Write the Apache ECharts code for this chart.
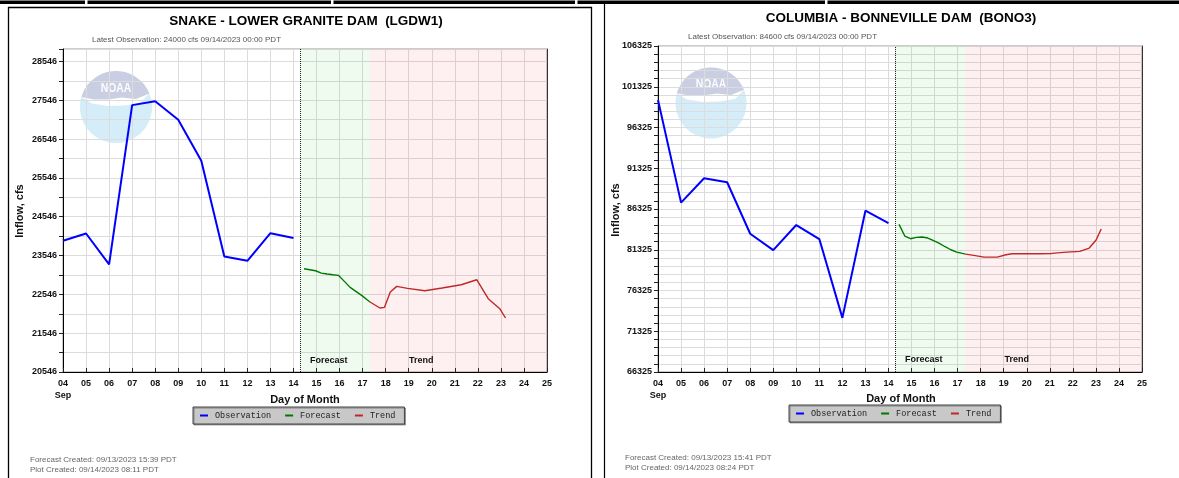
<!DOCTYPE html>
<html><head><meta charset="utf-8">
<script src="https://cdn.jsdelivr.net/npm/echarts@6/dist/echarts.min.js"></script>
<style>html,body{margin:0;padding:0;background:#fff}#c{width:1179px;height:478px}</style>
</head><body><div id="c"></div>
<script>
// ---------- data ----------
const dayMin = 4, dayMax = 25;

// SNAKE - LOWER GRANITE DAM (LGDW1)
const lgObsDays   = [4,5,6,7,8,9,10,11,12,13,14];
const lgObs       = [23925,24113,23317,27420,27520,27042,25989,23522,23411,24122,24000];
const lgFcstDays  = [14.458,14.708,14.958,15.208,15.458,15.708,15.958,16.208,16.458,16.708,16.958,17.208,17.32];
const lgFcst      = [23206,23180,23154,23094,23069,23051,23034,22880,22726,22623,22520,22400,22349];
const lgTrendDays = [17.32,17.75,17.95,18.2,18.48,18.95,19.7,20.45,21.28,21.95,22.45,22.95,23.2];
const lgTrend     = [22349,22195,22212,22606,22752,22700,22640,22709,22794,22923,22434,22177,21937];
const lgAxisMin = 20546, lgAxisMax = 28866, lgMinorStep = 500, lgMajorStep = 1000;
const lgNow = 14.28, lgTrendStart = 17.32;

// COLUMBIA - BONNEVILLE DAM (BONO3)
const bnObsDays   = [4,5,6,7,8,9,10,11,12,13,14];
const bnObs       = [99700,87104,90095,89604,83292,81284,84358,82636,72964,86120,84600];
const bnFcstDays  = [14.458,14.708,14.958,15.208,15.458,15.708,15.958,16.208,16.458,16.708,16.958,17.208,17.34];
const bnFcst      = [84440,83005,82677,82841,82882,82759,82431,82103,81694,81325,81038,80874,80792];
const bnTrendDays = [17.34,17.7,18.15,18.72,19.1,19.37,19.94,20.5,21.08,21.74,22.3,22.71,23.01,23.23];
const bnTrend     = [80792,80628,80423,80423,80710,80833,80833,80833,80874,81038,81120,81530,82514,83866];
const bnAxisMin = 66325, bnAxisMax = 106325, bnMinorStep = 1000, bnMajorStep = 5000;
const bnNow = 14.28, bnTrendStart = 17.34;

const legendNames = ['Observation','Forecast','Trend'];
const seriesColors = ['#0000ff','#007800','#c02828'];

// ---------- build ----------
const F = "'Liberation Sans', Arial, Helvetica, sans-serif";
const chart = echarts.init(document.getElementById('c'), null, {renderer:'canvas'});

const panels = [
  {title:'SNAKE - LOWER GRANITE DAM  (LGDW1)', tx:301, ty:9,
   latest:'Latest Observation: 24000 cfs 09/14/2023 00:00 PDT', lx:92, ly:40,
   fc:'Forecast Created: 09/13/2023 15:39 PDT', pc:'Plot Created: 09/14/2023 08:11 PDT', fx:30, fy:460,
   grid:{left:63, top:49, width:484, height:323},
   base:lgAxisMin, top:lgAxisMax, minor:lgMinorStep, major:lgMajorStep,
   obs:[lgObsDays,lgObs], fcst:[lgFcstDays,lgFcst], trend:[lgTrendDays,lgTrend],
   now:lgNow, ts:lgTrendStart, lab:[3,32], labDist:7,
   legend:{left:193, top:407}, yName:{x:20, y:211}, xName:{x:305, y:400},
   logo:{cx:116, cy:107, r:36}},
  {title:'COLUMBIA - BONNEVILLE DAM  (BONO3)', tx:896, ty:6,
   latest:'Latest Observation: 84600 cfs 09/14/2023 00:00 PDT', lx:688, ly:37,
   fc:'Forecast Created: 09/13/2023 15:41 PDT', pc:'Plot Created: 09/14/2023 08:24 PDT', fx:625, fy:457.5,
   grid:{left:658, top:46, width:484, height:326},
   base:bnAxisMin, top:bnAxisMax, minor:bnMinorStep, major:bnMajorStep,
   obs:[bnObsDays,bnObs], fcst:[bnFcstDays,bnFcst], trend:[bnTrendDays,bnTrend],
   now:bnNow, ts:bnTrendStart, lab:[2,31], labDist:8,
   legend:{left:789, top:405}, yName:{x:615.5, y:210}, xName:{x:901, y:398.5},
   logo:{cx:711, cy:103, r:35.5}}
];

function pairs(xs, ys, base){ return xs.map((x,i)=>[x, ys[i]-base]); }

// translucent NOAA watermark (decoration)
function noaaLogo(cx, cy, r) {
  const deg = Math.PI/180;
  const pt = a => [cx + r*Math.cos(a*deg), cy - r*Math.sin(a*deg)];
  const top = [];
  for (let a = 164; a > 22; a -= 4) top.push(pt(a));
  top.push(pt(22));
  const grayEdge = [[cx+20, cy-8],[cx+6, cy-9.5],[cx-8, cy-7.5],[cx-22, cy-7.5]];
  const bottom = [];
  for (let a = 22; a > -196; a -= 4) bottom.push(pt(a));
  bottom.push(pt(-196));
  const cyanEdge = [[cx-24,cy-3.5],[cx-8,cy-1],[cx+8,cy-1.5],[cx+24,cy-4]];
  return [
    {type:'polygon', silent:true, shape:{points:top.concat(grayEdge)}, style:{fill:'rgba(40,60,140,0.25)'}},
    {type:'polygon', silent:true, shape:{points:bottom.concat(cyanEdge)}, style:{fill:'rgba(100,190,230,0.28)'}},
    {type:'text', silent:true, x:cx, y:cy-18.5, scaleX:0.8,
     style:{text:'NOAA', fill:'rgba(255,255,255,0.95)', font:'bold 13px '+F, align:'center', verticalAlign:'middle'}}
  ];
}

const option = {
  animation:false,
  backgroundColor:'#ffffff',
  title:[], grid:[], xAxis:[], yAxis:[], series:[], legend:[], graphic:[]
};

// frame decorations
option.graphic.push(
  {type:'rect', silent:true, shape:{x:0, y:0.5, width:1179, height:3.5}, style:{fill:'#000'}},
  {type:'rect', silent:true, shape:{x:85, y:0, width:2.5, height:4.5}, style:{fill:'#fff'}},
  {type:'rect', silent:true, shape:{x:331, y:0, width:2.5, height:4.5}, style:{fill:'#fff'}},
  {type:'rect', silent:true, shape:{x:575, y:0, width:2.5, height:4.5}, style:{fill:'#fff'}},
  {type:'rect', silent:true, shape:{x:825, y:0, width:2.5, height:4.5}, style:{fill:'#fff'}},
  {type:'rect', silent:true, shape:{x:8.5, y:7.5, width:583, height:500}, style:{fill:'none', stroke:'#000', lineWidth:1.3}},
  {type:'line', silent:true, shape:{x1:604.5, y1:4, x2:604.5, y2:478}, style:{stroke:'#000', lineWidth:1.2}}
);

panels.forEach((p, i) => {
  option.title.push({text:p.title, left:p.tx, top:p.ty, textAlign:'center',
    textStyle:{fontSize:13.5, fontWeight:'bold', fontFamily:F, color:'#000'}});

  option.grid.push(Object.assign({show:true, borderColor:'#999', borderWidth:1, backgroundColor:'transparent'}, p.grid));

  option.xAxis.push({
    type:'value', gridIndex:i, min:dayMin, max:dayMax, interval:1,
    axisLine:{show:true, onZero:false, lineStyle:{color:'#000', width:1}},
    axisTick:{show:true, inside:true, length:4, lineStyle:{color:'#222'}},
    axisLabel:{margin:6, fontSize:9, fontWeight:'bold', fontFamily:F, color:'#111', lineHeight:12,
      formatter:v => { const s = (v<10?'0':'') + v; return v === dayMin ? s + '\nSep' : s; }},
    splitLine:{show:true, lineStyle:{color:'#dcdcdc', width:1}}
  });

  const base = p.base, major = p.major;
  option.yAxis.push({
    type:'value', gridIndex:i, min:0, max:p.top - p.base, interval:p.minor,
    axisLine:{show:true, lineStyle:{color:'#000', width:1}},
    axisTick:{show:true, inside:false, length:4, lineStyle:{color:'#222'}},
    axisLabel:{margin:6, fontSize:9, fontWeight:'bold', fontFamily:F, color:'#111',
      formatter:v => (Math.round(v) % major === 0) ? String(Math.round(v) + base) : ''},
    splitLine:{show:true, lineStyle:{color:'#dcdcdc', width:1}}
  });

  const labelStyle = {show:true, position:'insideBottomLeft', distance:p.labDist,
    fontSize:9, fontWeight:'bold', fontFamily:F, color:'#111'};

  option.series.push({
    name:'Observation', type:'line', xAxisIndex:i, yAxisIndex:i,
    data:pairs(p.obs[0], p.obs[1], p.base), showSymbol:false, color:seriesColors[0],
    lineStyle:{color:seriesColors[0], width:2}, z:5,
    markArea:{silent:true, data:[
      [{name:'Forecast', xAxis:p.now, itemStyle:{color:'rgba(60,200,60,0.075)'},
        label:Object.assign({offset:[p.lab[0],0]}, labelStyle)}, {xAxis:p.ts}],
      [{name:'Trend', xAxis:p.ts, itemStyle:{color:'rgba(235,60,60,0.075)'},
        label:Object.assign({offset:[p.lab[1],0]}, labelStyle)}, {xAxis:dayMax}]
    ]},
    markLine:{silent:true, symbol:'none', label:{show:false},
      lineStyle:{color:'#222', type:'dotted', width:1}, data:[{xAxis:p.now}]}
  });
  option.series.push({
    name:'Forecast', type:'line', xAxisIndex:i, yAxisIndex:i,
    data:pairs(p.fcst[0], p.fcst[1], p.base), showSymbol:false, color:seriesColors[1],
    lineStyle:{color:seriesColors[1], width:1.4}, z:5
  });
  option.series.push({
    name:'Trend', type:'line', xAxisIndex:i, yAxisIndex:i,
    data:pairs(p.trend[0], p.trend[1], p.base), showSymbol:false, color:seriesColors[2],
    lineStyle:{color:seriesColors[2], width:1.4}, z:5
  });

  option.legend.push({
    left:p.legend.left, top:p.legend.top, orient:'horizontal', data:legendNames,
    icon:'rect', itemWidth:8, itemHeight:2, itemGap:14, selectedMode:false,
    padding:[4,9,4,7], backgroundColor:'#c8c8c8', borderColor:'#444', borderWidth:1,
    shadowColor:'rgba(0,0,0,0.35)', shadowOffsetX:1, shadowOffsetY:1, shadowBlur:0,
    textStyle:{fontFamily:"'Liberation Mono','DejaVu Sans Mono', monospace", fontSize:8.5, color:'#222', padding:[0,0,0,2]}
  });

  option.graphic.push(
    {type:'text', silent:true, x:p.lx, y:p.ly,
     style:{text:p.latest, fill:'#555', font:'8px '+F, verticalAlign:'middle'}},
    {type:'text', silent:true, x:p.yName.x, y:p.yName.y, rotation:Math.PI/2,
     style:{text:'Inflow, cfs', fill:'#111', font:'bold 11px '+F, align:'center', verticalAlign:'middle'}},
    {type:'text', silent:true, x:p.xName.x, y:p.xName.y,
     style:{text:'Day of Month', fill:'#111', font:'bold 11px '+F, align:'center', verticalAlign:'middle'}},
    {type:'text', silent:true, x:p.fx, y:p.fy,
     style:{text:p.fc, fill:'#666', font:'8px '+F, verticalAlign:'middle'}},
    {type:'text', silent:true, x:p.fx, y:p.fy+10,
     style:{text:p.pc, fill:'#666', font:'8px '+F, verticalAlign:'middle'}}
  );
  noaaLogo(p.logo.cx, p.logo.cy, p.logo.r).forEach(e => option.graphic.push(e));
});

// right border of each plot (dark), via extra y axes
panels.forEach((p, i) => {
  option.yAxis.push({type:'value', gridIndex:i, position:'right', min:0, max:1,
    axisLine:{show:true, lineStyle:{color:'#333', width:1}}, axisTick:{show:false},
    axisLabel:{show:false}, splitLine:{show:false}});
});

chart.setOption(option);
</script>
</body></html>
